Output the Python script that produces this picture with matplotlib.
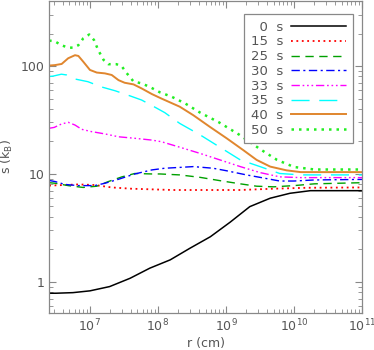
import numpy as np
import matplotlib
matplotlib.use("Agg")
import matplotlib.pyplot as plt

# entropy profiles s(r) at different times
r_0 = [6.4, 6.5, 6.75, 7.0, 7.29, 7.59, 7.88, 8.18, 8.47, 8.77, 9.06, 9.35, 9.65, 9.94, 10.24, 10.53, 11.0]
s_0 = [0.785, 0.785, 0.795, 0.826, 0.905, 1.08, 1.34, 1.60, 2.05, 2.62, 3.57, 4.98, 5.96, 6.62, 7.0, 7.0, 7.0]

r_15 = [6.4, 6.83, 7.07, 7.32, 7.61, 8.22, 9.2, 9.7, 10.2, 11.0]
s_15 = [7.8, 8.0, 7.9, 7.5, 7.3, 7.1, 7.1, 7.3, 7.45, 7.5]

r_25 = [6.4, 6.49, 6.68, 6.9, 7.1, 7.27, 7.47, 7.66, 7.91, 8.03, 8.32, 8.62, 8.91, 9.21, 9.45, 9.7, 10.0, 10.3, 11.0]
s_25 = [8.3, 8.2, 7.8, 7.5, 7.7, 8.5, 9.4, 10.1, 10.0, 10.0, 9.8, 9.3, 8.67, 8.1, 7.7, 7.6, 7.8, 8.1, 8.3]

r_30 = [6.4, 6.49, 6.63, 6.83, 7.07, 7.22, 7.42, 7.66, 7.91, 8.1, 8.32, 8.52, 8.81, 9.01, 9.3, 9.5, 9.79, 10.0, 10.3, 11.0]
s_30 = [8.7, 8.5, 8.0, 7.8, 7.8, 8.2, 8.93, 10.0, 10.9, 11.3, 11.5, 11.7, 11.3, 10.7, 9.8, 9.3, 8.6, 8.6, 8.8, 8.9]

r_33 = [6.4, 6.475, 6.58, 6.68, 6.78, 6.88, 7.02, 7.22, 7.42, 7.66, 7.91, 8.05, 8.32, 8.62, 8.91, 9.21, 9.5, 9.79, 10.1, 11.0]
s_33 = [26.5, 27.0, 29.0, 30.1, 28.4, 25.9, 24.7, 23.5, 22.1, 21.4, 20.6, 19.9, 17.7, 15.5, 13.5, 11.7, 10.3, 9.4, 9.25, 9.25]

r_35 = [6.4, 6.46, 6.58, 6.66, 6.78, 6.97, 7.17, 7.37, 7.56, 7.76, 7.96, 8.1, 8.32, 8.62, 8.91, 9.21, 9.5, 9.79, 10.1, 11.0]
s_35 = [80.0, 80.7, 84.0, 82.6, 75.8, 71.6, 64.0, 59.0, 53.7, 48.4, 41.4, 37.0, 29.4, 23.0, 17.7, 13.5, 11.7, 10.1, 9.8, 9.8]

r_40 = [6.4, 6.485, 6.584, 6.68, 6.78, 6.83, 6.9, 7.0, 7.1, 7.22, 7.32, 7.42, 7.51, 7.64, 7.76, 7.91, 8.05, 8.32,
        8.52, 8.76, 9.01, 9.25, 9.45, 9.65, 9.89, 10.1, 11.0]
s_40 = [101, 102, 104.5, 118, 126, 124, 110, 92, 87, 85.5, 82.6, 74, 70, 67.6, 62, 55, 50, 42,
        35, 27.4, 21.4, 16.7, 13.5, 11.7, 10.8, 10.4, 10.4]

r_50 = [6.4, 6.48, 6.58, 6.68, 6.75, 6.83, 6.9, 6.99, 7.06, 7.12, 7.2, 7.27, 7.39, 7.47, 7.54, 7.64, 7.76, 7.88,
        8.03, 8.2, 8.4, 8.62, 8.9, 9.2, 9.5, 9.75, 10.0, 10.3, 11.0]
s_50 = [172, 170, 156, 148, 148, 156, 180, 196, 174, 141, 114, 104, 104, 99, 86, 72, 69, 64,
        57, 52, 45, 37, 30, 23, 17, 13.5, 11.6, 11.0, 11.0]

labels = ["  0  s", "15  s", "25  s", "30  s", "33  s", "35  s", "40  s", "50  s"]

cinza = "#555555"
plt.rcParams["font.family"] = ["DejaVu Sans"]
plt.rcParams["font.size"] = 9

fig = plt.figure(figsize=(3.74, 3.5), dpi=100)
ax = fig.add_axes([0.131, 0.106, 0.837, 0.891])

ax.plot(10 ** np.array(r_0), s_0, color="black", lw=1.1, label=labels[0])
ax.plot(10 ** np.array(r_15), s_15, color="red", lw=1.3, ls=(0, (1, 2)), label=labels[1])
ax.plot(10 ** np.array(r_25), s_25, color="#00a000", lw=1.0, ls=(0, (6, 4)), label=labels[2])
ax.plot(10 ** np.array(r_30), s_30, color="blue", lw=1.0, ls=(0, (6, 2.5, 1.5, 2.5)), label=labels[3])
ax.plot(10 ** np.array(r_33), s_33, color="magenta", lw=1.0,
        ls=(0, (6, 2, 1.2, 2, 1.2, 2, 1.2, 2)), label=labels[4])
ax.plot(10 ** np.array(r_35), s_35, color="cyan", lw=1.0, ls=(0, (13, 7)), label=labels[5])
ax.plot(10 ** np.array(r_40), s_40, color="#e0862e", lw=1.4, label=labels[6])
ax.plot(10 ** np.array(r_50), s_50, color="#22ee22", lw=1.8, ls=(0, (1, 2)), label=labels[7])

ax.set_xscale("log")
ax.set_yscale("log")
ax.set_xlim(2.5e6, 1e11)
ax.set_ylim(0.516, 400)

ax.set_yticks([1, 10, 100])
ax.set_yticklabels(["1", "10", "100"])
ax.tick_params(which="both", direction="in", top=True, right=True, colors="#888888",
               labelcolor=cinza, labelsize=9)
ax.tick_params(which="major", length=5, width=0.8)
ax.tick_params(which="minor", length=3, width=0.6)
for sp in ax.spines.values():
    sp.set_color("#888888")
    sp.set_linewidth(0.9)

ax.set_xlabel("r (cm)", color=cinza, fontsize=9, labelpad=2)
ax.set_ylabel(r"s (k$_\mathrm{B}$)", color=cinza, fontsize=9, labelpad=4)

leg = ax.legend(loc="upper right", bbox_to_anchor=(0.971, 0.958), borderaxespad=0,
                markerfirst=False, handlelength=4.2, labelspacing=0.13, fancybox=False,
                edgecolor="#888888", framealpha=1, fontsize=9.5, borderpad=0.5, handletextpad=0.6)
leg.get_frame().set_linewidth(0.9)
for t in leg.get_texts():
    t.set_color(cinza)

fig.savefig("out.png", dpi=100)
